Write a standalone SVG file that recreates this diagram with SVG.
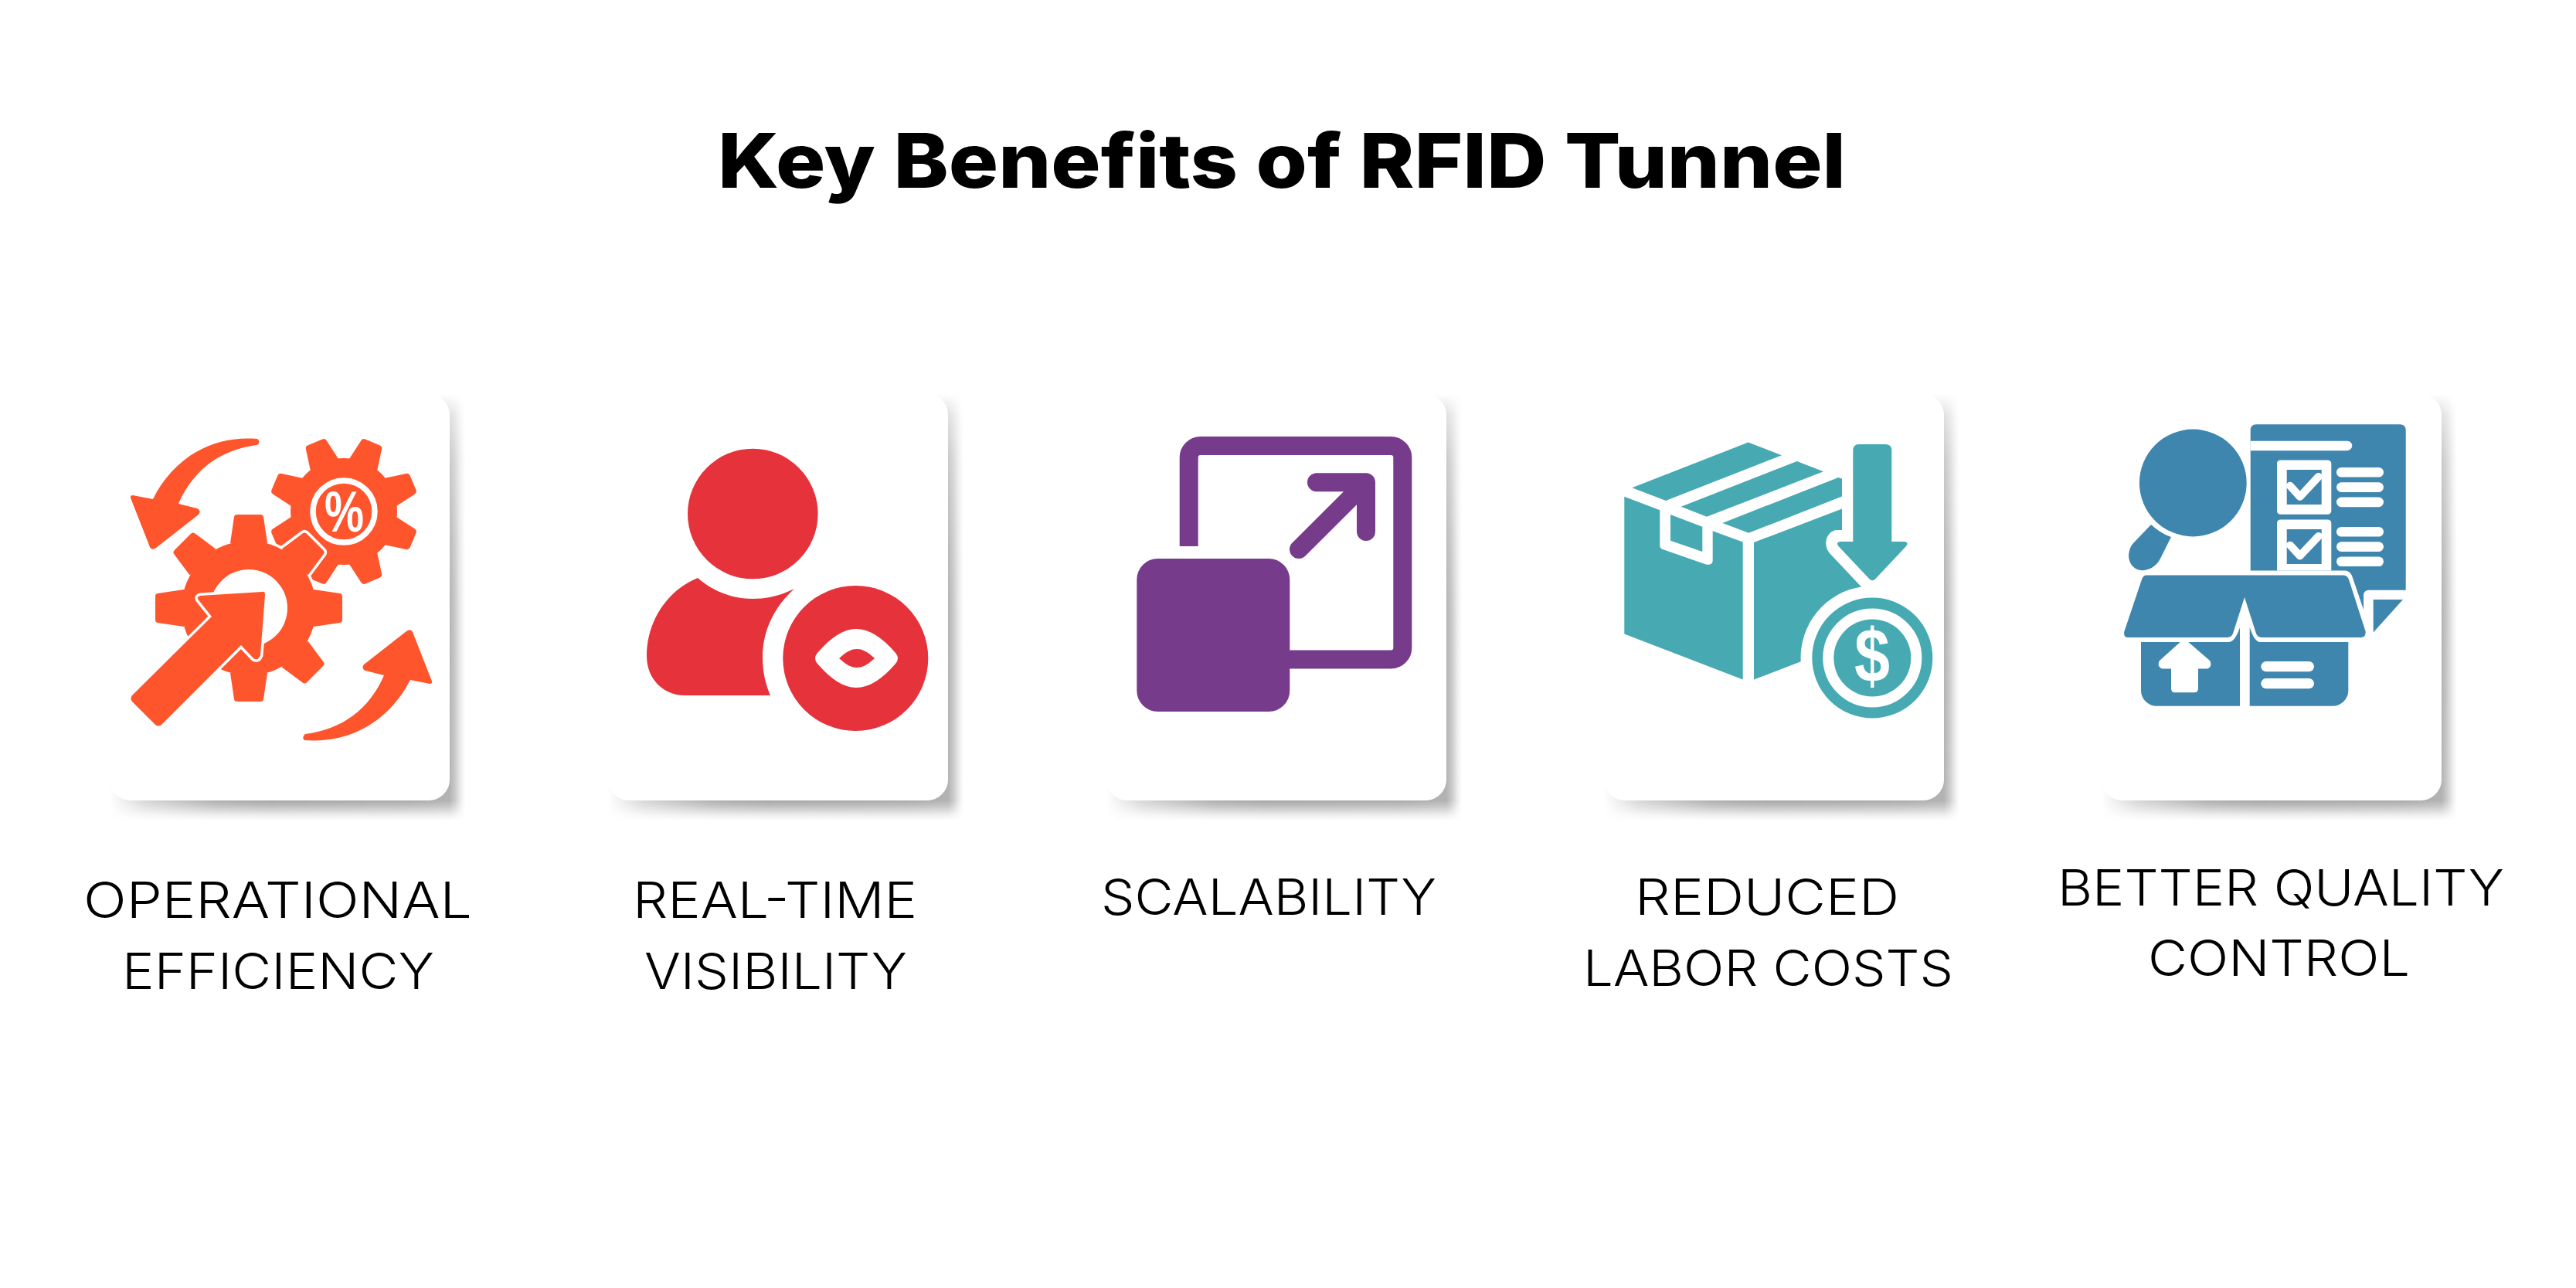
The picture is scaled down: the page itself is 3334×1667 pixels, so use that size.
<svg xmlns="http://www.w3.org/2000/svg" xmlns:xlink="http://www.w3.org/1999/xlink" width="3334" height="1667" viewBox="0 0 3334 1667">
<style>
.title{font-family:"Inter","Liberation Sans",sans-serif;font-weight:800;font-size:98px;fill:#000}
.lab{font-family:"Inter","Liberation Sans",sans-serif;font-weight:300;font-size:65px;fill:#000}
.sym{font-family:"Liberation Sans",sans-serif;font-weight:700;fill:#fff}
.card{fill:#fff}
.w{fill:#fff}
.org{fill:#FF552D}.red{fill:#E5323B}.pur{fill:#773B8C}.tea{fill:#47AAB3}.blu{fill:#3F86AE}
</style>
<defs>
<linearGradient id="ga" gradientUnits="userSpaceOnUse" x1="142" y1="0" x2="602" y2="0">
<stop offset="0" stop-color="#a6a6a6" stop-opacity="0"/><stop offset=".1" stop-color="#a6a6a6" stop-opacity=".45"/><stop offset=".3" stop-color="#a6a6a6" stop-opacity=".9"/><stop offset=".45" stop-color="#a6a6a6" stop-opacity="1"/><stop offset=".85" stop-color="#a6a6a6" stop-opacity=".95"/><stop offset=".957" stop-color="#a6a6a6" stop-opacity=".85"/><stop offset=".972" stop-color="#a6a6a6" stop-opacity=".58"/><stop offset=".987" stop-color="#a6a6a6" stop-opacity=".22"/><stop offset="1" stop-color="#a6a6a6" stop-opacity="0"/>
</linearGradient>
<linearGradient id="gb" gradientUnits="userSpaceOnUse" x1="0" y1="510" x2="0" y2="1062">
<stop offset="0" stop-color="#000"/><stop offset=".05" stop-color="#666"/><stop offset=".15" stop-color="#b3b3b3"/><stop offset=".35" stop-color="#e6e6e6"/><stop offset=".5" stop-color="#fff"/><stop offset=".953" stop-color="#fff"/><stop offset=".967" stop-color="#b3b3b3"/><stop offset=".985" stop-color="#404040"/><stop offset="1" stop-color="#000"/>
</linearGradient>
<mask id="mb" maskUnits="userSpaceOnUse" x="142" y="510" width="460" height="552"><rect x="142" y="510" width="460" height="552" fill="url(#gb)"/></mask>
<g id="cardbg">
<rect x="142" y="510" width="460" height="552" fill="url(#ga)" mask="url(#mb)"/>
<rect class="card" x="142" y="510" width="440" height="526" rx="27"/>
</g>
<path id="bt" d="M-24,-84 L-19,-118 Q-18.5,-121 -15,-121 L15,-121 Q18.5,-121 19,-118 L24,-84 Z"/>
<g id="biggear">
<circle r="87"/>
<use xlink:href="#bt"/><use xlink:href="#bt" transform="rotate(45)"/><use xlink:href="#bt" transform="rotate(90)"/><use xlink:href="#bt" transform="rotate(135)"/><use xlink:href="#bt" transform="rotate(180)"/><use xlink:href="#bt" transform="rotate(225)"/><use xlink:href="#bt" transform="rotate(270)"/><use xlink:href="#bt" transform="rotate(315)"/>
</g>
<path id="st" d="M-19.5,-66 L-14.5,-93 Q-14,-97 -10,-97 L10,-97 Q14,-97 14.5,-93 L19.5,-66 Z"/>
<path id="bigarrow" d="M339,766 L259,771 Q253,773 258,778 L274,798 L171,900 Q168,904 171,908 L201,938 Q205,941 209,938 L312,835 L328,852 Q334,856 337,848 L343,770 Q343,765 339,766 Z"/>
<rect id="bar" width="61" height="12.6" rx="6.3"/>
</defs>

<text id="title" class="title" x="929" y="243" textLength="1460" lengthAdjust="spacingAndGlyphs">Key Benefits of RFID Tunnel</text>

<g id="card-operational-efficiency">
<use xlink:href="#cardbg"/>
<g class="org">
<g transform="translate(445,662)">
<circle r="69"/>
<use xlink:href="#st" transform="rotate(22.5)"/><use xlink:href="#st" transform="rotate(67.5)"/><use xlink:href="#st" transform="rotate(112.5)"/><use xlink:href="#st" transform="rotate(157.5)"/><use xlink:href="#st" transform="rotate(202.5)"/><use xlink:href="#st" transform="rotate(247.5)"/><use xlink:href="#st" transform="rotate(292.5)"/><use xlink:href="#st" transform="rotate(337.5)"/>
<circle r="40" fill="none" stroke="#fff" stroke-width="7.5"/>
</g>
<text class="sym" x="420" y="688" font-size="74" textLength="51" lengthAdjust="spacingAndGlyphs">%</text>
<use xlink:href="#biggear" transform="translate(322,787)" stroke="#fff" stroke-width="7" fill="#fff"/>
<use xlink:href="#biggear" transform="translate(322,787)"/>
<circle class="w" cx="322" cy="787" r="50"/>
<use xlink:href="#bigarrow" stroke="#fff" stroke-width="7" stroke-linejoin="round" fill="#fff"/>
<use xlink:href="#bigarrow"/>
<path d="M333,568 C270,563 222,597 198,646 L172,641 Q167,641 170,647 L194,708 Q196,713 202,709 L257,666 Q261,661 255,658 L231,652 C250,608 285,582 333,576 Q338,572 333,568 Z"/>
<path d="M394,958 C458,963 506,929 531,880 L556,885 Q561,885 558,879 L534,818 Q532,813 526,817 L471,860 Q467,865 473,868 L497,874 C478,918 443,944 395,950 Q390,954 394,958 Z"/>
</g>
<text class="lab" x="108" y="1188" textLength="503" lengthAdjust="spacingAndGlyphs">OPERATIONAL</text>
<text class="lab" x="158" y="1280" textLength="404" lengthAdjust="spacingAndGlyphs">EFFICIENCY</text>
</g>

<g id="card-real-time-visibility">
<use xlink:href="#cardbg" x="645"/>
<g class="red">
<circle cx="974.3" cy="665" r="84.3"/>
<path d="M903,748 C925,767 950,775 974,775 C995,775 1012,770 1028,762 C1003,785 987,815 987,851 C987,870 991,886 997,900 L886,900 C858,900 837,878 837,849 C837,803 865,763 903,748 Z"/>
<circle cx="1107.3" cy="852" r="94"/>
<path class="w" d="M1058,845 C1075,825 1092,814 1108,814 C1125,814 1142,825 1159,845 Q1165,852 1159,859 C1142,879 1125,890 1108,890 C1092,890 1075,879 1058,859 Q1052,852 1058,845 Z"/>
<path d="M1086,852 C1096,843 1102,840 1109,840 C1116,840 1122,843 1132,852 C1122,861 1116,864 1109,864 C1102,864 1096,861 1086,852 Z"/>
</g>
<text class="lab" x="819" y="1188" textLength="368" lengthAdjust="spacingAndGlyphs">REAL-TIME</text>
<text class="lab" x="834" y="1280" textLength="340" lengthAdjust="spacingAndGlyphs">VISIBILITY</text>
</g>

<g id="card-scalability">
<use xlink:href="#cardbg" x="1290"/>
<g class="pur">
<path d="M1538.7,707 V592 A15,15 0 0 1 1553.7,577 H1800.3 A15,15 0 0 1 1815.3,592 V838.5 A15,15 0 0 1 1800.3,853.5 H1660" fill="none" stroke="#773B8C" stroke-width="24"/>
<rect x="1471.3" y="723" width="198" height="198" rx="27"/>
<path d="M1681,711 L1768,624.3 M1704,624.3 H1768 V688" fill="none" stroke="#773B8C" stroke-width="24" stroke-linecap="round" stroke-linejoin="round"/>
</g>
<text class="lab" x="1425" y="1184" textLength="434" lengthAdjust="spacingAndGlyphs">SCALABILITY</text>
</g>

<g id="card-reduced-labor-costs">
<use xlink:href="#cardbg" x="1934"/>
<g class="tea">
<path d="M2112.3,631.3 L2262.7,572.5 L2306,589.2 L2156,648 Z"/>
<path d="M2175.7,655.8 L2325.7,597 L2360,610.3 L2209,668.7 Z"/>
<path d="M2229.3,676.9 L2379.3,618 L2384,619.5 V642.4 L2263.3,689.8 Z"/>
<path d="M2102.3,642.8 L2148.3,660.2 V706 Q2148.3,710 2152,711 L2208,730.5 Q2216.7,732 2216.7,725 V687.2 L2255.7,701.6 V879.6 L2102.3,820.4 Z"/>
<path d="M2162,666 L2203.3,681.7 V713.9 L2162,699.8 Z"/>
<path d="M2270,702 L2384,658.4 V686 H2378 C2365,686 2358,704 2368,716 L2409,759.4 A93,93 0 0 0 2330.7,856.3 L2270,879.6 Z"/>
<path d="M2398.3,583 Q2398.3,575 2406,575 H2440 Q2448.3,575 2448.3,583 V701 H2465 Q2471,702 2467,707 L2427,749.5 Q2423.3,753 2419.6,749.5 L2379.5,707 Q2375.5,702 2381.5,701 H2398.3 Z"/>
<circle cx="2423.3" cy="851.5" r="71" fill="none" stroke="#47AAB3" stroke-width="14"/>
<circle cx="2423.3" cy="851.5" r="50"/>
</g>
<text class="sym" x="2400" y="883" font-size="98" textLength="46" lengthAdjust="spacingAndGlyphs">$</text>
<text class="lab" x="2116" y="1184" textLength="342" lengthAdjust="spacingAndGlyphs">REDUCED</text>
<text class="lab" x="2049" y="1276" textLength="479" lengthAdjust="spacingAndGlyphs">LABOR COSTS</text>
</g>

<g id="card-better-quality-control">
<use xlink:href="#cardbg" x="2578"/>
<g class="blu">
<circle cx="2838.3" cy="625" r="69.4"/>
<path d="M2784,679 Q2796,690 2810,695 L2796,723 C2790,735 2778,739 2770,738 C2757,736 2753,722 2756,713 Q2757,707 2762,702 Z"/>
<path d="M2912.7,557 Q2912.7,549.2 2920,549.2 H3106 Q3113.7,549.2 3113.7,557 V763.8 H3066 Q3059,764 3059,771 V789 L3044,745 Q3041,739 3035,738.6 H2912.7 Z"/>
<path d="M3071.7,776 H3110 L3071.7,818.6 Z"/>
</g>
<g class="w">
<path d="M2912.7,570.7 H3038 A6.25,6.25 0 0 1 3038,583.2 H2912.7 Z"/>
<path d="M2952,595.5 H3012 Q3017.3,595.5 3017.3,600 V661 Q3017.3,665.8 3012,665.8 H2952 Q2947,665.8 2947,661 V600 Q2947,595.5 2952,595.5 Z"/>
<path d="M2952,672.4 H3012 Q3017.3,672.4 3017.3,677 V738.6 H2947 V677 Q2947,672.4 2952,672.4 Z"/>
</g>
<rect class="blu" x="2959.7" y="608" width="45" height="45"/>
<rect class="blu" x="2959.7" y="685" width="45" height="45"/>
<path d="M2964,628.8 L2976.7,642.8 L3000.7,617 M2964,705.7 L2976.7,719.4 L3000.7,694" fill="none" stroke="#fff" stroke-width="10" stroke-linecap="round" stroke-linejoin="round"/>
<g class="w">
<use xlink:href="#bar" x="3024" y="605"/><use xlink:href="#bar" x="3024" y="624.3"/><use xlink:href="#bar" x="3024" y="643.6"/>
<use xlink:href="#bar" x="3024" y="682"/><use xlink:href="#bar" x="3024" y="701.3"/><use xlink:href="#bar" x="3024" y="720.5"/>
</g>
<g class="blu">
<path d="M2778,744.6 H3032 Q3038,744.6 3040,750 L3061.7,817.5 Q3062,824.9 3056,824.9 H2927 Q2922,824.9 2920,820 L2905,773 L2890,820 Q2888,824.9 2883,824.9 H2754 Q2748,824.9 2749.3,817.5 L2772,750 Q2774,744.6 2778,744.6 Z"/>
<path d="M2771,831 H2885 Q2893,830 2899,812 V913.7 H2791 A20,20 0 0 1 2771,893.7 Z"/>
<path d="M2911.7,812 Q2918,831 2925,831 H3039.3 V893.7 A20,20 0 0 1 3019.3,913.7 H2911.7 Z"/>
</g>
<g class="w">
<path d="M2821.7,831 H2832.3 L2860,855 Q2864,862 2857,865.6 H2845 V891 Q2845,896.3 2840,896.3 H2815 Q2810,896.3 2810,891 V865.6 H2798 Q2791,862 2795,855 Z"/>
<rect x="2926.3" y="856" width="68.7" height="13.3" rx="6.6"/>
<rect x="2926.3" y="878" width="68.7" height="13.3" rx="6.6"/>
</g>
<text class="lab" x="2663" y="1172" textLength="578" lengthAdjust="spacingAndGlyphs">BETTER QUALITY</text>
<text class="lab" x="2780" y="1263" textLength="339" lengthAdjust="spacingAndGlyphs">CONTROL</text>
</g>
</svg>
